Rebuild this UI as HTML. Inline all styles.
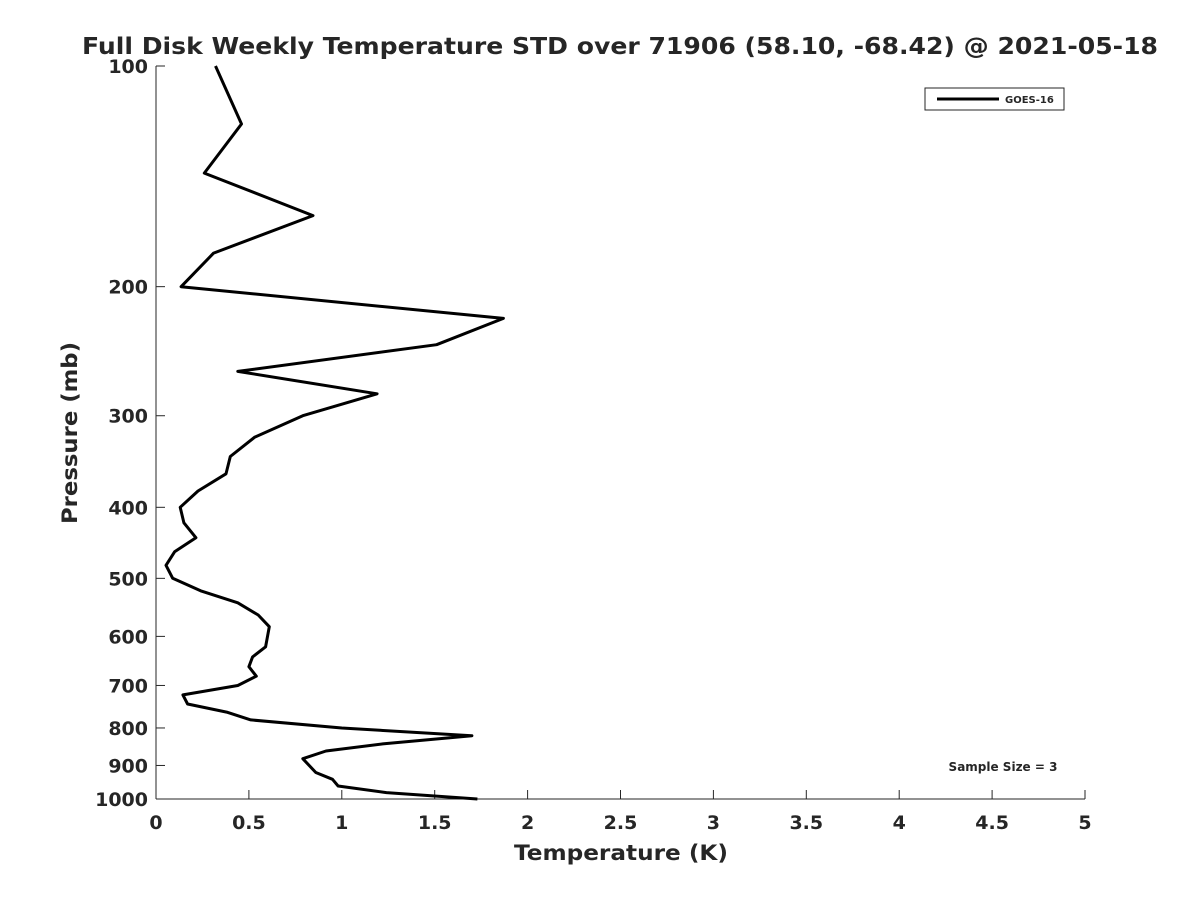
<!DOCTYPE html>
<html><head><meta charset="utf-8"><style>
body{margin:0;background:#fff;}
svg text{font-family:"DejaVu Sans","Liberation Sans",sans-serif;fill:#262626;font-weight:bold;}
</style></head><body>
<svg width="1200" height="900" xmlns="http://www.w3.org/2000/svg">
<g id="g"></g>
</svg>
<script>
const pressures=[100,120,140,160,180,200,221,240,261,280,300,321,341,360,380,400,420,440,460,480,500,520,540,561,582,620,640,660,680,700,721,742,761,780,800,820,841,860,881,920,940,960,980,1000];
const stdValues=[0.32,0.46,0.26,0.845,0.31,0.135,1.87,1.51,0.44,1.19,0.79,0.53,0.40,0.377,0.226,0.13,0.15,0.215,0.10,0.054,0.09,0.24,0.44,0.55,0.61,0.59,0.52,0.50,0.54,0.44,0.145,0.17,0.38,0.51,1.0,1.70,1.22,0.915,0.79,0.86,0.95,0.98,1.24,1.73];
const xTicks=[0,0.5,1,1.5,2,2.5,3,3.5,4,4.5,5];
const yTicks=[100,200,300,400,500,600,700,800,900,1000];
const X0=156,X1=1085,Y0=66,Y1=799;
const xs=v=>X0+(v/5)*(X1-X0);
const ys=p=>Y0+(Math.log10(p)-2)*(Y1-Y0);
const g=document.getElementById('g');
const NS='http://www.w3.org/2000/svg';
function mk(t,a,txt){const e=document.createElementNS(NS,t);for(const k in a)e.setAttribute(k,a[k]);if(txt!==undefined)e.textContent=txt;g.appendChild(e);return e;}
let e;
e=mk('text',{x:82,y:54,'font-size':23,textLength:1076,lengthAdjust:'spacingAndGlyphs'},'Full Disk Weekly Temperature STD over 71906 (58.10, -68.42) @ 2021-05-18');

e=mk('line',{x1:X0,y1:Y0,x2:X0,y2:Y1,stroke:'#262626','stroke-width':1});

e=mk('line',{x1:X0,y1:Y1,x2:X1,y2:Y1,stroke:'#262626','stroke-width':1});

xTicks.forEach(v=>{
 e=mk('line',{x1:xs(v),y1:Y1,x2:xs(v),y2:Y1-9,stroke:'#262626'});
 
 e=mk('text',{x:xs(v),y:Y1+30,'text-anchor':'middle','font-size':19},String(v));
 
});
yTicks.forEach(p=>{
 e=mk('line',{x1:X0,y1:ys(p),x2:X0+9,y2:ys(p),stroke:'#262626'});
 
 e=mk('text',{x:X0-8,y:ys(p)+7,'text-anchor':'end','font-size':19},String(p));
 
});
e=mk('text',{x:514,y:860,'font-size':21,textLength:214,lengthAdjust:'spacingAndGlyphs'},'Temperature (K)');

e=mk('text',{x:-524,y:77,'font-size':21,textLength:182,lengthAdjust:'spacingAndGlyphs',transform:'rotate(-90)'},'Pressure (mb)');

const pts=pressures.map((p,i)=>xs(stdValues[i]).toFixed(1)+','+ys(p).toFixed(1)).join(' ');
e=mk('polyline',{points:pts,fill:'none',stroke:'#000','stroke-width':3,'stroke-linejoin':'round'});

e=mk('rect',{x:925,y:88,width:139,height:22,fill:'#fff',stroke:'#262626','stroke-width':1});

e=mk('line',{x1:937,y1:99,x2:999,y2:99,stroke:'#000','stroke-width':3});

e=mk('text',{x:1005,y:103,'font-size':10},'GOES-16');

e=mk('text',{x:1003,y:771,'text-anchor':'middle','font-size':12,fill:'#000'},'Sample Size = 3');

</script>
</body></html>
